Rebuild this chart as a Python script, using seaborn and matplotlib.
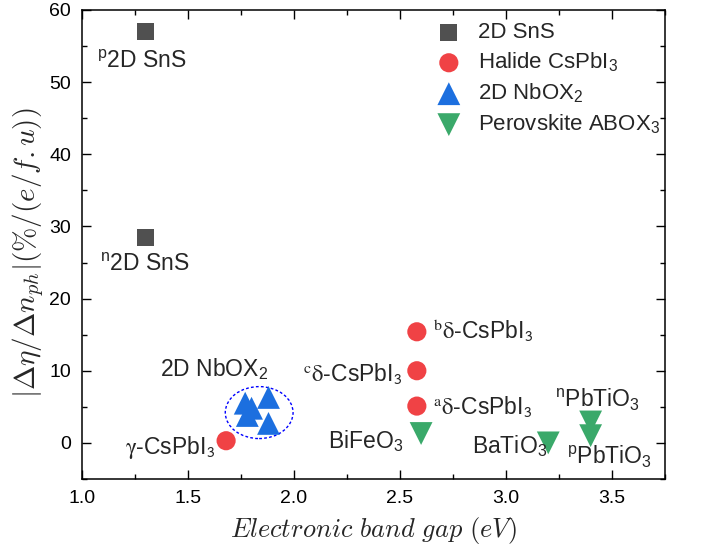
import numpy as np
import pandas as pd
import matplotlib
matplotlib.use("Agg")
import matplotlib.pyplot as plt
from matplotlib.patches import Ellipse
from matplotlib.ticker import MultipleLocator
import seaborn as sns

# ---------------- data ----------------
sns_x = [1.30, 1.30]
sns_y = [57.0, 28.4]

halide_x = [1.68, 2.58, 2.58, 2.58]
halide_y = [0.3, 15.4, 10.0, 5.1]

nbox_x = [1.77, 1.80, 1.78, 1.88, 1.88]
nbox_y = [5.5, 4.8, 3.8, 6.3, 2.7]

perov_x = [2.60, 3.20, 3.40, 3.40]
perov_y = [1.3, 0.0, 2.9, 1.0]

groups = ["2D SnS", "Halide CsPbI$_\\mathrm{3}$", "2D NbOX$_\\mathrm{2}$",
          "Perovskite ABOX$_\\mathrm{3}$"]

x_ticks = [1.0, 1.5, 2.0, 2.5, 3.0, 3.5]
y_ticks = [0, 10, 20, 30, 40, 50, 60]

df = pd.concat([
    pd.DataFrame({"gap": sns_x, "val": sns_y, "group": groups[0]}),
    pd.DataFrame({"gap": halide_x, "val": halide_y, "group": groups[1]}),
    pd.DataFrame({"gap": nbox_x, "val": nbox_y, "group": groups[2]}),
    pd.DataFrame({"gap": perov_x, "val": perov_y, "group": groups[3]}),
], ignore_index=True)

colors = {groups[0]: "#505050", groups[1]: "#f04245", groups[2]: "#1c6fdf",
          groups[3]: "#3aa96a"}
markers = {groups[0]: "s", groups[1]: "o", groups[2]: "^", groups[3]: "v"}
sizes = {groups[0]: 150, groups[1]: 190, groups[2]: 270, groups[3]: 270}

# ---------------- style ----------------
sns.set_style("ticks")
plt.rcParams["font.family"] = ["Liberation Sans", "DejaVu Sans"]
plt.rcParams["mathtext.fontset"] = "cm"
plt.rcParams["mathtext.rm"] = "Liberation Sans"
plt.rcParams["mathtext.it"] = "Liberation Sans:italic"
plt.rcParams["mathtext.sf"] = "Liberation Sans"
plt.rcParams["axes.linewidth"] = 1.1
plt.rcParams["axes.edgecolor"] = "black"

fig = plt.figure(figsize=(7.05, 5.55), dpi=100)
ax = fig.add_axes([0.1163, 0.137, 0.943 - 0.1163, 0.982 - 0.137])

for g in groups:
    sub = df[df["group"] == g]
    sns.scatterplot(data=sub, x="gap", y="val", ax=ax, marker=markers[g],
                    color=colors[g], s=sizes[g], edgecolor="none",
                    linewidth=0, label=g, zorder=3)

ax.set_xlim(1.0, 3.75)
ax.set_ylim(-5, 60)
ax.set_xticks(x_ticks)
ax.set_yticks(y_ticks)
ax.set_xticklabels([f"{v:.1f}" for v in x_ticks])
ax.set_yticklabels([str(v) for v in y_ticks])
ax.xaxis.set_minor_locator(MultipleLocator(0.25))
ax.yaxis.set_minor_locator(MultipleLocator(5))
ax.tick_params(which="both", direction="in", top=True, right=True,
               labelsize=14, width=1.0, colors="black")
ax.tick_params(which="major", length=6.5, pad=8)
ax.tick_params(which="minor", length=3.5)
for s in ax.spines.values():
    s.set_visible(True)

ax.set_xlabel(r"$Electronic\ band\ gap\ (eV)$", fontsize=19, labelpad=6,
              math_fontfamily="cm")
ax.set_ylabel(r"$|\Delta\eta/\Delta n_{ph}|(\%/(e/f.u))$", fontsize=21,
              math_fontfamily="cm")
ax.yaxis.set_label_coords(-0.062, 0.483)

# ellipse around the NbOX2 cluster
ax.add_patch(Ellipse((1.836, 4.2), 0.32, 7.2, fill=False, edgecolor="#0000ff",
                     linewidth=1.0, linestyle=(0, (2, 1.6)), zorder=2))

# annotations
fs = 16.5
kw_s = dict(fontsize=fs, math_fontfamily="custom", va="baseline")
kw_g = dict(fontsize=fs, math_fontfamily="stix", va="baseline")
ax.text(1.07, 52.0, r"$^\mathrm{p}$2D SnS", ha="left", **kw_s)
ax.text(1.085, 23.8, r"$^\mathrm{n}$2D SnS", ha="left", **kw_s)
ax.text(1.877, 9.3, r"2D NbOX$_\mathrm{2}$", ha="right", **kw_s)
ax.text(2.51, 8.6, r"$^{\mathrm{c}}\mathrm{\delta}$-CsPbI$_{\mathsf{3}}$", ha="right", **kw_g)
ax.text(2.656, 14.4, r"$^{\mathrm{b}}\mathrm{\delta}$-CsPbI$_{\mathsf{3}}$", ha="left", **kw_g)
ax.text(2.656, 4.0, r"$^{\mathrm{a}}\mathrm{\delta}$-CsPbI$_{\mathsf{3}}$", ha="left", **kw_g)
ax.text(1.627, -1.5, r"$\mathrm{\gamma}$-CsPbI$_{\mathsf{3}}$", ha="right", **kw_g)
ax.text(2.514, -0.7, r"BiFeO$_\mathrm{3}$", ha="right", **kw_s)
ax.text(3.193, -1.4, r"BaTiO$_\mathrm{3}$", ha="right", **kw_s)
ax.text(3.231, 4.9, r"$^\mathrm{n}$PbTiO$_\mathrm{3}$", ha="left", **kw_s)
ax.text(3.288, -2.9, r"$^\mathrm{p}$PbTiO$_\mathrm{3}$", ha="left", **kw_s)

leg = ax.legend(loc="upper right", bbox_to_anchor=(1.018, 1.007), frameon=False,
                fontsize=16, handletextpad=0.5, labelspacing=0.33,
                borderaxespad=0.3, handlelength=1.6)
for t in leg.get_texts():
    t.set_math_fontfamily("custom")

fig.savefig("out.png", dpi=100)
